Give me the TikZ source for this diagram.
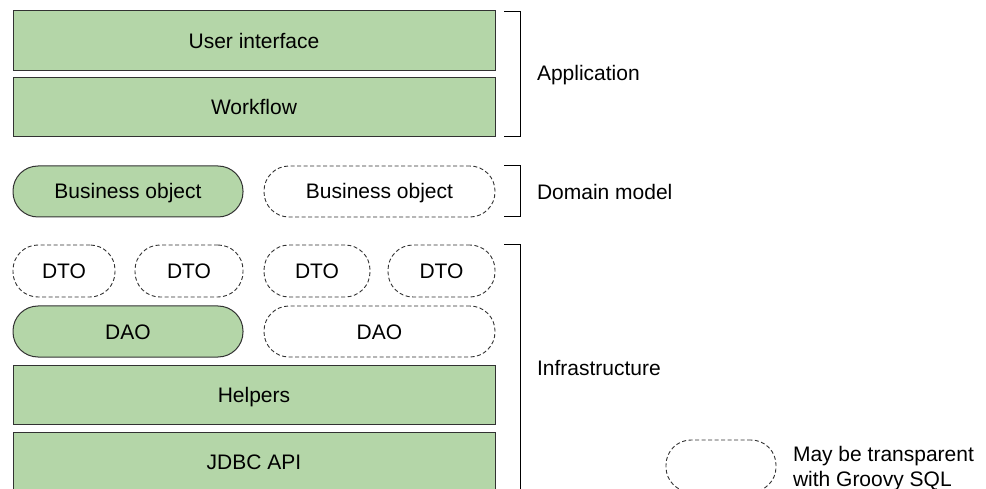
\documentclass[tikz,border=0pt]{standalone}
\usepackage{fontspec}
\setmainfont{Liberation Sans}
\definecolor{layergreen}{RGB}{180,214,168}
\definecolor{edgegrey}{RGB}{50,50,50}
\begin{document}
\begin{tikzpicture}[x=1pt,y=-1pt,
  every node/.style={font=\fontsize{21}{25}\selectfont, inner sep=0pt, outer sep=0pt},
  layer/.style={draw=edgegrey, line width=1pt, fill=layergreen, minimum width=482pt, text height=15pt, text depth=0pt},
  solidpill/.style={draw=edgegrey, line width=1pt, fill=layergreen, rounded corners=25pt, minimum height=51pt, text height=15pt, text depth=0pt},
  dashpill/.style={draw=edgegrey, line width=0.9pt, dash pattern=on 4pt off 2.5pt, fill=white, rounded corners=25pt, minimum height=51pt, text height=15pt, text depth=0pt},
  bracket/.style={draw=black, line width=1pt},
  side/.style={anchor=west, text height=15pt, text depth=0pt}
]
\useasboundingbox (0,0) rectangle (986,489);
\begin{scope}
\clip (0,0) rectangle (986,489);
% Application layers
\node[layer, minimum height=60pt] (ui) at (254,41) {User interface};
\node[layer, minimum height=59pt] (wf) at (254,107.5) {Workflow};
% Domain model
\node[solidpill, minimum width=230pt] (bo1) at (128,191.5) {Business object};
\node[dashpill, minimum width=231pt] (bo2) at (379.5,191.5) {Business object};
% DTOs
\node[dashpill, minimum width=102pt, minimum height=52pt] (dto1) at (64,271) {DTO};
\node[dashpill, minimum width=108pt, minimum height=52pt] (dto2) at (189,271) {DTO};
\node[dashpill, minimum width=106pt, minimum height=52pt] (dto3) at (317,271) {DTO};
\node[dashpill, minimum width=107pt, minimum height=52pt] (dto4) at (441.5,271) {DTO};
% DAOs
\node[solidpill, minimum width=230pt] (dao1) at (128,331.5) {DAO};
\node[dashpill, minimum width=231pt] (dao2) at (379.5,331.5) {DAO};
% Infrastructure layers
\node[layer, minimum height=59pt] (help) at (254,394.5) {Helpers};
\node[layer, minimum height=59pt] (jdbc) at (254,461.5) {JDBC API};
% Brackets
\coordinate (a1) at (504,12);
\coordinate (a2) at (520,12);
\coordinate (a3) at (520,137);
\coordinate (a4) at (504,137);
\draw[bracket] (a1) -- (a2) -- (a3) -- (a4);
\coordinate (d1) at (504,166);
\coordinate (d2) at (520,166);
\coordinate (d3) at (520,217);
\coordinate (d4) at (504,217);
\draw[bracket] (d1) -- (d2) -- (d3) -- (d4);
\coordinate (i1) at (504,245);
\coordinate (i2) at (520,245);
\coordinate (i3) at (520,495);
\draw[bracket] (i1) -- (i2) -- (i3);
% Labels
\node[side] (lapp) at (537,73) {Application};
\node[side] (ldom) at (537,192) {Domain model};
\node[side] (linf) at (537,368) {Infrastructure};
% Legend
\node[dashpill, minimum width=110pt, minimum height=52pt] (leg) at (721,466) {};
\node[anchor=base west] (lg1) at (793,461) {May be transparent};
\node[anchor=base west] (lg2) at (793,486) {with Groovy SQL};
\end{scope}
\end{tikzpicture}
\end{document}
